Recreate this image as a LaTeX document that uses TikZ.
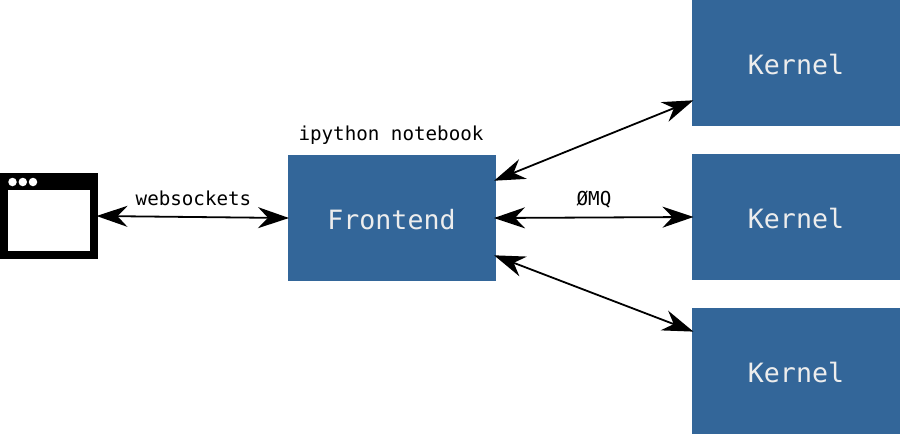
\documentclass[tikz,border=0pt]{standalone}
\usepackage{fontspec}
\setmonofont{DejaVu Sans Mono}
\usetikzlibrary{arrows.meta}
\definecolor{boxblue}{HTML}{336699}

\begin{document}
\begin{tikzpicture}
  [x=1pt,y=-1pt,
   box/.style={rectangle,fill=boxblue,text=white!93!black,inner sep=0,outer sep=0,
     text height=23pt,text depth=0pt,
     minimum width=208pt,minimum height=126pt,font=\ttfamily\fontsize{26.6}{30}\selectfont},
   small/.style={inner sep=0,font=\ttfamily\fontsize{19.2}{22}\selectfont},
   dot/.style={circle,fill=white,inner sep=0,minimum size=8.5pt},
   link/.style={line width=1.8pt,shorten <=-1.5pt,shorten >=-1.5pt,
     {Stealth[length=31pt,width=21pt,inset=10pt]}-{Stealth[length=31pt,width=21pt,inset=10pt]}}]
  \useasboundingbox (0,0) rectangle (900,434);

  \node[box] (k1) at (796,63)  {Kernel};
  \node[box] (k2) at (796,217) {Kernel};
  \node[box] (k3) at (796,371) {Kernel};
  \node[box] (fe) at (391.5,218) {Frontend};

  \node[rectangle,fill=black,inner sep=0,outer sep=0,minimum width=98pt,minimum height=86pt] (win) at (49,216) {};
  \node[rectangle,fill=white,inner sep=0,minimum width=82pt,minimum height=61pt] (pane) at (49,220.5) {};
  \node[dot] (d1) at (12.5,182) {};
  \node[dot] (d2) at (22.8,182) {};
  \node[dot] (d3) at (33,182) {};

  \node[small] (nb) at (391,135) {ipython notebook};
  \node[small] (ws) at (193.5,198.5) {websockets};
  \node[small] (mq) at (594,199) {ØMQ};

\foreach \from/\to in
{win.east/fe.west, fe.20.6/k1.200.6, fe.east/k2.west, fe.-20.6/k3.159.4}
    \draw[link] (\from) -- (\to);
\end{tikzpicture}
\end{document}
